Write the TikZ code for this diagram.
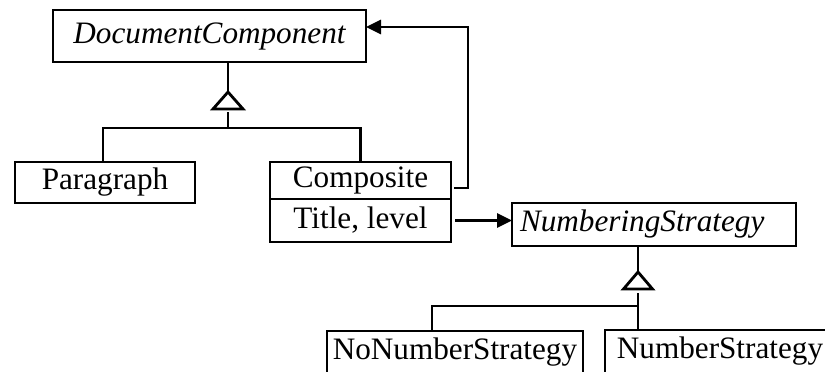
\documentclass[tikz,border=0pt]{standalone}
\usepackage{fontspec}
\setmainfont{Liberation Serif}
\usetikzlibrary{arrows.meta,positioning}

\begin{document}
\begin{tikzpicture}[x=0.5pt, y=-0.5pt, line width=1.4pt,
		font=\fontsize{15.6pt}{18pt}\selectfont,
		cls/.style ={ rectangle, draw, black, text=black, inner sep=0pt,
			outer sep=0pt, minimum height=21.5pt},
		abstract/.style ={ cls, font=\fontsize{15.6pt}{18pt}\selectfont\itshape},
		assoc/.style ={ -{Triangle[length=7.5pt,width=7pt]} }]
		\path[use as bounding box, fill=white] (0,0) rectangle (825,371);
		\clip (0,0) rectangle (825,371);
		\node[abstract, minimum width=156.5pt, minimum height=26pt] (doc) at (209.5,36) {DocumentComponent};
		\node[cls, minimum width=90pt, minimum height=20.5pt] (para) at (105,182.5) {Paragraph};
		\node[cls, minimum width=90.5pt, minimum height=18.5pt] (comp) at (360.5,180.5) {Composite};
		\node[cls, minimum width=90.5pt] (title) [below=0pt of comp] {Title, level};
		\node[abstract, text width=134pt, inner xsep=4pt, align=left] (num) at (654,224.5) {NumberingStrategy};
		\node[cls, minimum width=128pt] (nonum) at (455,352.5) {NoNumberStrategy};
		\node[cls, minimum width=115pt] (numb) at (720,351.5) {NumberStrategy};
		% generalisation of the document parts
		\coordinate (tri1) at (228,92);
		\coordinate (j1) at (228,128);
		\draw (doc.south -| tri1) -- (tri1);
		\draw[line join=miter] (tri1) -- ++(-15,17) -- ++(30,0) -- cycle;
		\draw (tri1) ++(0,20) -- (j1);
		\draw ([xshift=-1pt]para.north) |- (j1) -| (comp.north); % to Paragraph and Composite
		% generalisation of the strategies
		\coordinate (tri2) at (638,272);
		\coordinate (j2) at (638,306);
		\draw (num.south -| tri2) -- (tri2);
		\draw[line join=miter] (tri2) -- ++(-14.5,17) -- ++(29,0) -- cycle;
		\draw (tri2) ++(0,21) -- (tri2 |- numb.north); % to NumberStrategy
		\draw ([xshift=-11.5pt]nonum.north) |- (j2); % to NoNumberStrategy
		% associations
		\coordinate (back) at (468,27);
		\draw[assoc] ([xshift=1.5pt,yshift=-3.75pt]comp.east) -| (back) -- (back -| doc.east); % children
		\draw[assoc] ([xshift=2pt]title.east) -- (num.west |- title.east); % numbering
\end{tikzpicture}
\end{document}
